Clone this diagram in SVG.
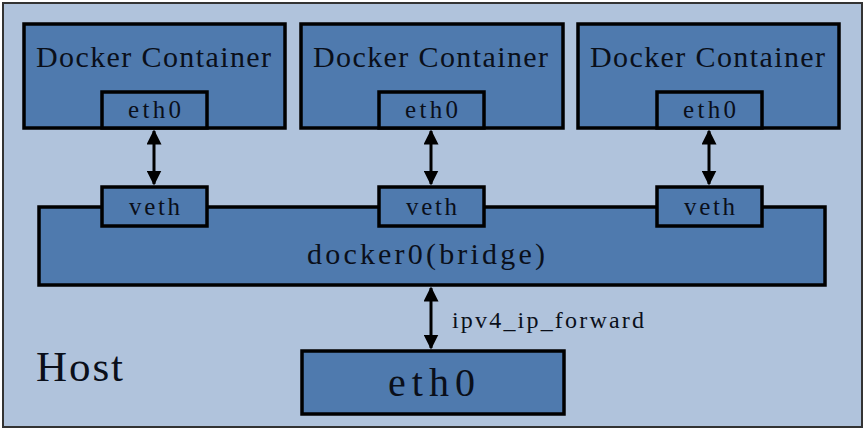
<svg xmlns="http://www.w3.org/2000/svg" width="868" height="431" viewBox="0 0 868 431">
<style>
.box{fill:#4F7AAE;stroke:#000;stroke-width:3.5}
.t{font-family:"Liberation Serif",serif;fill:#0a0f1a}
.c{stroke:#000;stroke-width:3;fill:none;marker-start:url(#ah);marker-end:url(#ah)}
</style>
<defs>
<marker id="ah" viewBox="0 0 10 10" refX="9" refY="5" markerWidth="5" markerHeight="5" orient="auto-start-reverse" markerUnits="strokeWidth">
<path d="M0,0 L10,5 L0,10 z" fill="#000"/>
</marker>
</defs>
<g id="host">
<rect x="3" y="3" width="859" height="424" fill="#B0C3DC" stroke="#333" stroke-width="2"/>
<text class="t" x="36" y="381" font-size="43" textLength="87">Host</text>
</g>
<g id="container1">
<rect class="box" x="24" y="24" width="261" height="104"/>
<text class="t" x="36" y="67" font-size="30" textLength="235">Docker Container</text>
<rect class="box" x="102" y="92" width="105" height="36"/>
<text class="t" x="128" y="118" font-size="25" textLength="53">eth0</text>
</g>
<g id="container2">
<rect class="box" x="301" y="24" width="262" height="104"/>
<text class="t" x="313" y="67" font-size="30" textLength="235">Docker Container</text>
<rect class="box" x="379" y="92" width="105" height="36"/>
<text class="t" x="405" y="118" font-size="25" textLength="53">eth0</text>
</g>
<g id="container3">
<rect class="box" x="578" y="24" width="261" height="104"/>
<text class="t" x="590" y="67" font-size="30" textLength="235">Docker Container</text>
<rect class="box" x="657" y="92" width="105" height="36"/>
<text class="t" x="683" y="118" font-size="25" textLength="53">eth0</text>
</g>
<g id="bridge">
<rect class="box" x="39" y="207" width="786" height="78"/>
<text class="t" x="307" y="264" font-size="30" textLength="238">docker0(bridge)</text>
</g>
<g id="veth1">
<rect class="box" x="102" y="187" width="105" height="39"/>
<text class="t" x="129" y="215" font-size="25" textLength="51">veth</text>
</g>
<g id="veth2">
<rect class="box" x="379" y="187" width="105" height="39"/>
<text class="t" x="406" y="215" font-size="25" textLength="51">veth</text>
</g>
<g id="veth3">
<rect class="box" x="657" y="187" width="105" height="39"/>
<text class="t" x="684" y="215" font-size="25" textLength="51">veth</text>
</g>
<g id="hosteth0">
<rect class="box" x="302" y="351" width="262" height="63"/>
<text class="t" x="388" y="396" font-size="40" textLength="87">eth0</text>
</g>
<g id="connectors">
<line class="c" x1="154" y1="131" x2="154" y2="184"/>
<line class="c" x1="431" y1="131" x2="431" y2="184"/>
<line class="c" x1="709" y1="131" x2="709" y2="184"/>
<line class="c" x1="431" y1="288" x2="431" y2="348"/>
<text class="t" x="452" y="328" font-size="24" textLength="192">ipv4_ip_forward</text>
</g>
</svg>
